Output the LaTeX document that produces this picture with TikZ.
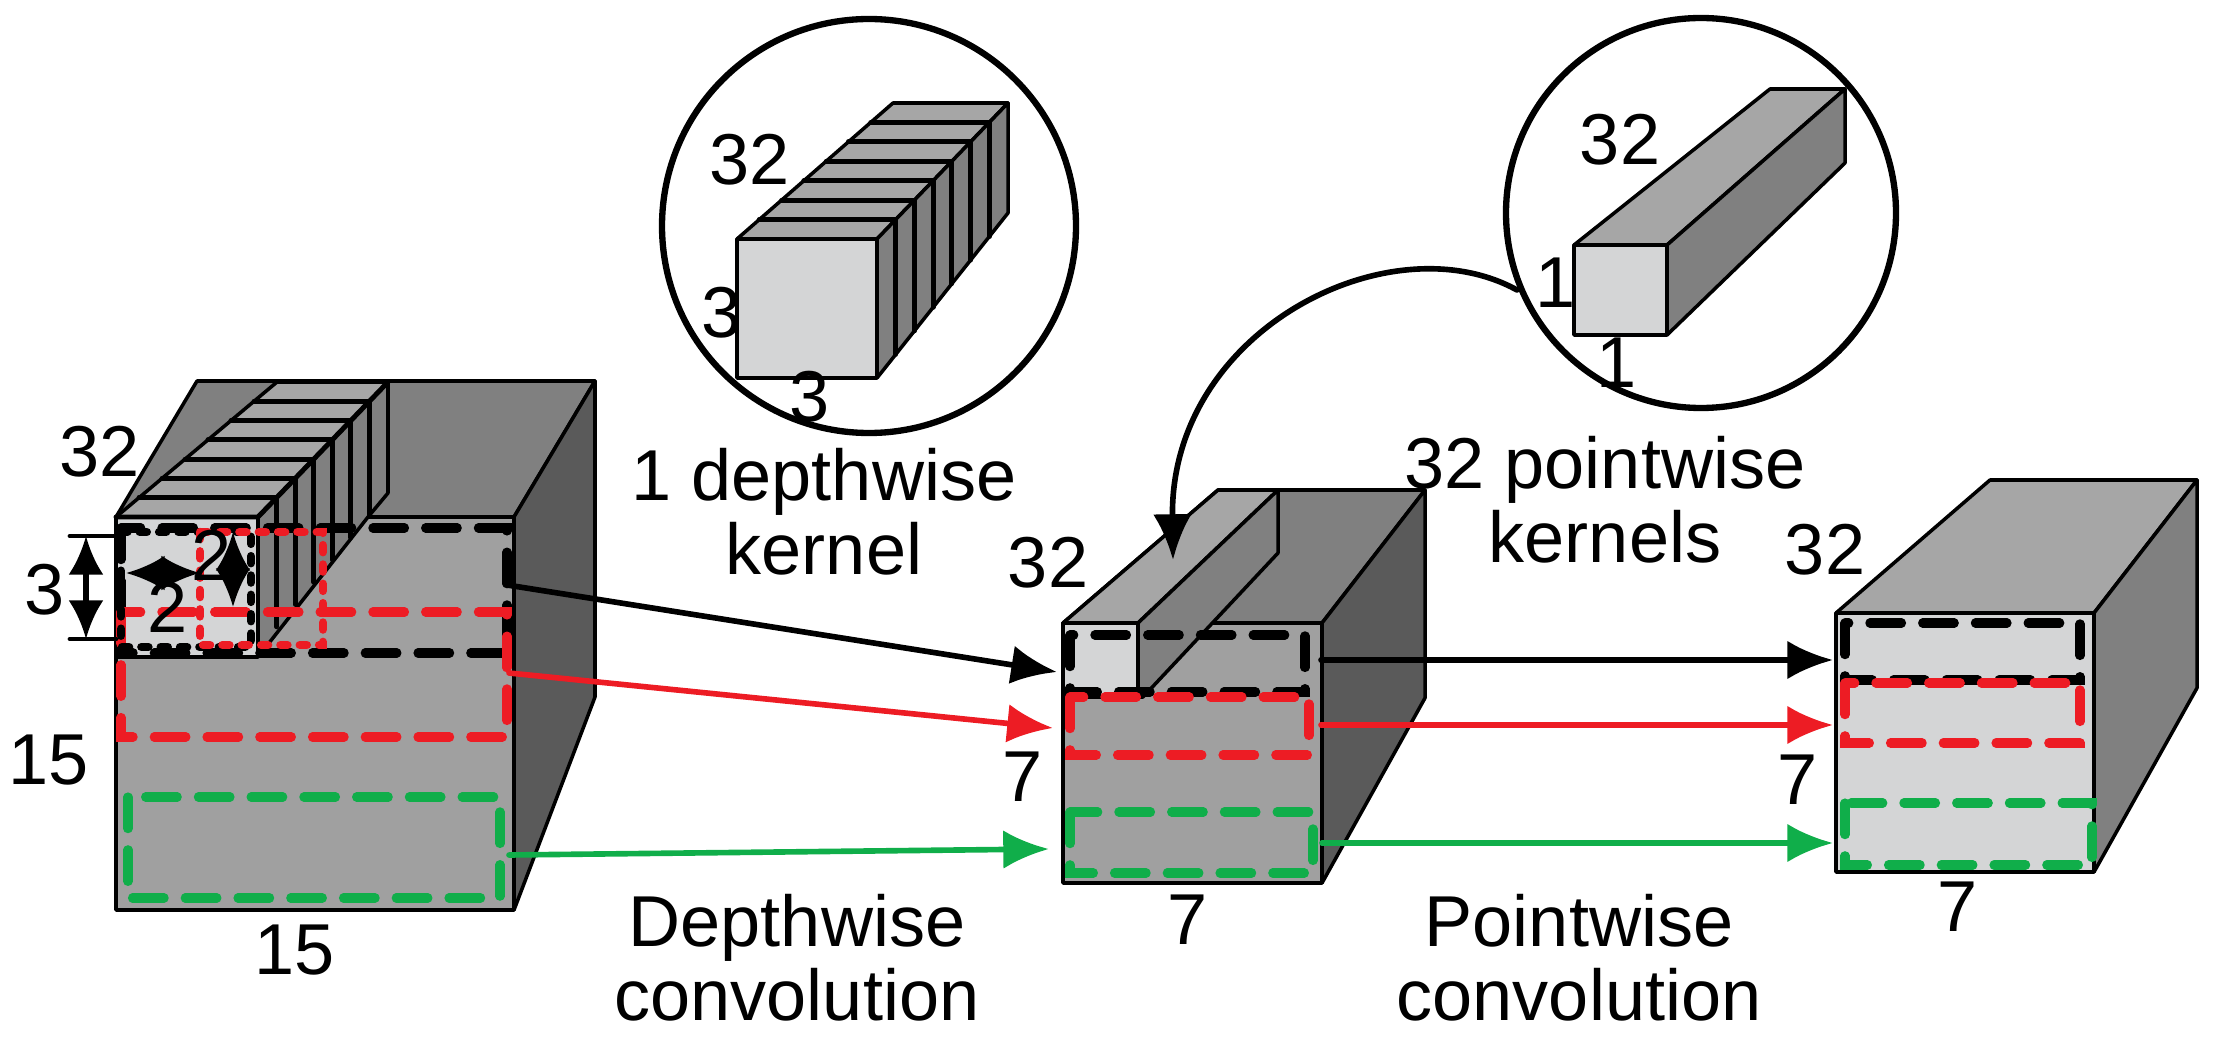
\documentclass[tikz,border=0pt]{standalone}
\usepackage{fontspec}
\setmainfont{Liberation Sans}
\usetikzlibrary{arrows.meta}
\definecolor{faceF}{HTML}{A0A0A0}
\definecolor{faceT}{HTML}{808080}
\definecolor{faceR}{HTML}{5A5A5A}
\definecolor{faceL}{HTML}{D4D5D6}
\definecolor{faceM}{HTML}{A6A6A6}
\definecolor{cred}{HTML}{ED1C24}
\definecolor{cgreen}{HTML}{10AE4A}
\tikzset{
  edge/.style={line width=1pt, line join=round},
  win/.style={line width=2.6pt, dash pattern=on 9pt off 6pt},
  dot/.style={line width=2.4pt, dash pattern=on 2pt off 3.5pt, line cap=round},
  flow/.style={line width=1.6pt, -{Latex[length=13pt,width=11pt]}},
  dim/.style={line width=1.6pt, {Latex[length=11pt,width=10pt]}-{Latex[length=11pt,width=10pt]}},
  lab/.style={font=\fontsize{20.5}{21}\selectfont, inner sep=0pt},
  slab/.style={font=\fontsize{20.5}{21}\selectfont, inner sep=0pt},
}
\begin{document}
\begin{tikzpicture}[x=0.01cm, y=-0.01cm, line cap=round, >=latex]
  \useasboundingbox (0,0) rectangle (2227,1049);

  % Blok links 15x15x32
  \filldraw[edge, fill=faceT] (116,517) -- (197,381) -- (595,381) -- (514,517) -- cycle;
  \filldraw[edge, fill=faceR] (514,517) -- (595,381) -- (595,697) -- (514,910) -- cycle;
  \filldraw[edge, fill=faceF] (116,517) rectangle (514,910);
  % kernel stapel op blok links
  \filldraw[edge, fill=faceM] (116,517) -- (277,382) -- (388,382) -- (258,517) -- cycle;
  \filldraw[edge, fill=faceT] (258,517) -- (388,382) -- (388,493) -- (368,517) -- (258,657) -- cycle;
  \filldraw[edge, fill=faceL] (116,517) rectangle (258,657);
  \foreach \i in {1,...,6} {
    \pgfmathsetmacro{\t}{\i/7}
    \pgfmathsetmacro{\lx}{116+161*\t}
    \pgfmathsetmacro{\rx}{258+130*\t}
    \pgfmathsetmacro{\yy}{517-135*\t}
    \pgfmathsetmacro{\by}{min(657-(\rx-258)*1.273, 493+(388-\rx)*1.2)}
    \draw[edge, line width=1.4pt] (\lx,\yy) -- (\rx,\yy) -- (\rx,\by);
  }
  \draw[edge, line width=1.4pt] (116,517) -- (258,517) -- (388,382);

  % Blok midden 7x7x32
  \filldraw[edge, fill=faceT] (1063,623) -- (1218,490) -- (1425,490) -- (1322,623) -- cycle;
  \filldraw[edge, fill=faceR] (1322,623) -- (1425,490) -- (1425,698) -- (1322,883) -- cycle;
  \filldraw[edge, fill=faceF] (1063,623) rectangle (1322,883);
  \filldraw[edge, fill=faceM] (1063,623) -- (1218,490) -- (1278,490) -- (1138,623) -- cycle;
  \filldraw[edge, fill=faceT] (1138,623) -- (1278,490) -- (1278,553) -- (1143,697) -- (1138,697) -- cycle;
  \filldraw[edge, fill=faceL] (1063,623) rectangle (1138,697);

  % Blok rechts 7x7x32
  \filldraw[edge, fill=faceM] (1836,613) -- (1990,480) -- (2197,480) -- (2094,613) -- cycle;
  \filldraw[edge, fill=faceT] (2094,613) -- (2197,480) -- (2197,688) -- (2094,872) -- cycle;
  \filldraw[edge, fill=faceL] (1836,613) rectangle (2094,872);

  % Vensters
  \draw[win] (121,528) rectangle (507,653);
  \draw[win, cred] (121,612) rectangle (507,737);
  \draw[win, cgreen] (128,797) rectangle (500,898);
  \draw[dot] (121,532) rectangle (251,647);
  \draw[dot, cred] (200,532) rectangle (323,645);
  \draw[win] (1070,635) rectangle (1305,692);
  \draw[win, cred] (1070,697) rectangle (1309,755);
  \draw[win, cgreen] (1070,812) rectangle (1313,873);
  \draw[win] (1845,623) rectangle (2080,680);
  \draw[win, cred] (1845,683) rectangle (2080,743);
  \draw[win, cgreen] (1845,803) rectangle (2092,865);

  % Afmetingen kernel
  \draw[line width=1.4pt] (70,536) -- (116,536) (70,639) -- (116,639);
  \draw[dim] (86,536) -- (86,639);
  \draw[dim] (126,573) -- (200,573);
  \draw[dim] (233,532) -- (233,607);

  % Pijlen
  \coordinate (LB) at (507,585);  \coordinate (MB) at (1057,672);
  \coordinate (LR) at (509,673);  \coordinate (MR) at (1053,728);
  \coordinate (LG) at (509,855);  \coordinate (MG) at (1049,849);
  \coordinate (MB2) at (1321,660); \coordinate (RB) at (1833,660);
  \coordinate (MR2) at (1321,725); \coordinate (RR) at (1833,725);
  \coordinate (MG2) at (1322,843); \coordinate (RG) at (1833,843);
  \draw[flow] (LB) -- (MB);
  \draw[flow, cred] (LR) -- (MR);
  \draw[flow, cgreen] (LG) -- (MG);
  \draw[flow] (MB2) -- (RB);
  \draw[flow, cred] (MR2) -- (RR);
  \draw[flow, cgreen] (MG2) -- (RG);

  % Loep links: 1 depthwise kernel
  \filldraw[edge, fill=faceM] (737,239) -- (893,103) -- (1008,103) -- (877,239) -- cycle;
  \filldraw[edge, fill=faceT] (877,239) -- (1008,103) -- (1008,213) -- (877,378) -- cycle;
  \filldraw[edge, fill=faceL] (737,239) rectangle (877,378);
  \foreach \i in {1,...,6} {
    \pgfmathsetmacro{\t}{\i/7}
    \pgfmathsetmacro{\lx}{737+156*\t}
    \pgfmathsetmacro{\rx}{877+131*\t}
    \pgfmathsetmacro{\yy}{239-136*\t}
    \pgfmathsetmacro{\by}{378-(\rx-877)*1.26}
    \draw[edge, line width=1.4pt] (\lx,\yy) -- (\rx,\yy) -- (\rx,\by);
  }
  \draw[line width=1.8pt] (869,226) circle (207);

  % Loep rechts: pointwise kernel
  \filldraw[edge, fill=faceM] (1574,245) -- (1770,89) -- (1845,89) -- (1667,245) -- cycle;
  \filldraw[edge, fill=faceT] (1667,245) -- (1845,89) -- (1845,163) -- (1667,335) -- cycle;
  \filldraw[edge, fill=faceL] (1574,245) rectangle (1667,335);
  \draw[line width=1.8pt] (1701,213) circle (195);

  % Gebogen pijl
  \coordinate (CR) at (1517,290);
  \coordinate (SL) at (1173,560);
  \draw[line width=1.6pt, -{Latex[length=13pt,width=11pt]}] (CR) .. controls (1390,220) and (1170,330) .. (SL);

  % Teksten
  \node[lab] (t32a) at (100,452) {32};
  \node[lab] (t3a) at (45,590) {3};
  \node[lab] (t2a) at (168,607) {2};
  \node[lab] (t2b) at (212,555) {2};
  \node[lab] (t15a) at (49,760) {15};
  \node[lab] (t15b) at (295,950) {15};
  \node[lab] (t32b) at (1048,563) {32};
  \node[lab] (t7a) at (1023,777) {7};
  \node[lab] (t7b) at (1188,920) {7};
  \node[lab] (t32c) at (1825,550) {32};
  \node[lab] (t7c) at (1798,780) {7};
  \node[lab] (t7d) at (1958,907) {7};
  \node[lab, align=center] (dwc) at (797,958) {Depthwise\\convolution};
  \node[lab, align=center] (pwc) at (1579,958) {Pointwise\\convolution};
  \node[lab, align=center] (dwk) at (824,512) {1 depthwise\\kernel};
  \node[lab, align=center] (pwk) at (1605,500) {32 pointwise\\kernels};
  \node[slab] (c32a) at (750,160) {32};
  \node[slab] (c3a) at (722,313) {3};
  \node[slab] (c3b) at (810,397) {3};
  \node[slab] (c32b) at (1620,140) {32};
  \node[slab] (c1a) at (1556,283) {1};
  \node[slab] (c1b) at (1617,363) {1};
\end{tikzpicture}
\end{document}
